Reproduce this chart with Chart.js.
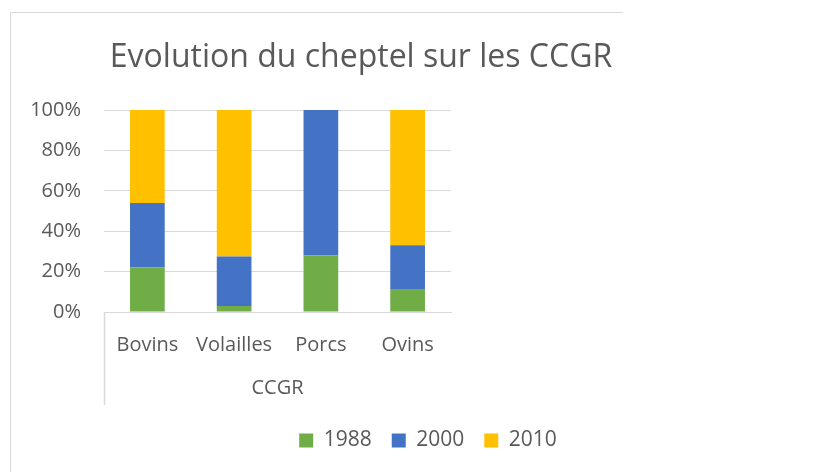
<!DOCTYPE html>
<html>
<head>
<meta charset="utf-8">
<script src="https://cdn.jsdelivr.net/npm/chart.js@4.4.1/dist/chart.umd.min.js"></script>
<style>
	html, body { margin: 0; padding: 0; background: #fff; overflow: hidden; }
	#wrap { position: relative; width: 830px; height: 472px; }
	#frame { position: absolute; left: 10px; top: 12px; width: 612px; height: 470px; border-top: 1px solid #d9d9d9; border-left: 1px solid #d9d9d9; }
	canvas { position: absolute; left: 0; top: 0; }
</style>
</head>
<body>
<div id="wrap">
	<div id="frame"></div>
	<canvas id="chart" width="830" height="472"></canvas>
</div>
<script>
// Data
const chartTitle = "Evolution du cheptel sur les CCGR";
const groupTitle = "CCGR";
const categories = ["Bovins", "Volailles", "Porcs", "Ovins"];
const years = ["1988", "2000", "2010"];
const values1988 = [22, 3, 28, 11];
const values2000 = [32, 24.5, 72, 22];
const values2010 = [46, 72.5, 0, 67];
const yTicks = [0, 20, 40, 60, 80, 100];

const seriesColors = ["#70AD47", "#4472C4", "#FFC000"];
const textColor = "#595959";
const gridColor = "#d9d9d9";
const fontFamily = "'Open Sans', sans-serif";

// Title drawn centred over the original chart box
const titlePlugin = {
	id: "excelTitle",
	afterDraw(chart) {
		const ctx = chart.ctx;
		ctx.save();
		ctx.font = "32px " + fontFamily;
		ctx.fillStyle = textColor;
		ctx.textAlign = "center";
		ctx.textBaseline = "middle";
		ctx.fillText(chartTitle, 361, 58);
		ctx.restore();
	},
};

// Vertical separator line of the multi-level category axis
const groupLinePlugin = {
	id: "groupLine",
	afterDraw(chart) {
		const ctx = chart.ctx;
		const xScale = chart.scales.x;
		const left = Math.round(chart.chartArea.left) + 0.5;
		ctx.save();
		ctx.strokeStyle = gridColor;
		ctx.lineWidth = 1.5;
		ctx.beginPath();
		ctx.moveTo(left, chart.chartArea.bottom);
		ctx.lineTo(left, xScale.bottom - 5);
		ctx.stroke();
		ctx.restore();
	},
};

const ctx = document.getElementById("chart").getContext("2d");

new Chart(ctx, {
	type: "bar",
	data: {
		labels: categories,
		datasets: [
			{ label: years[0], data: values1988, backgroundColor: seriesColors[0] },
			{ label: years[1], data: values2000, backgroundColor: seriesColors[1] },
			{ label: years[2], data: values2010, backgroundColor: seriesColors[2] },
		],
	},
	options: {
		responsive: false,
		animation: false,
		layout: {
			padding: { top: 110, left: 26, right: 0, bottom: 11 },
		},
		datasets: {
			bar: {
				categoryPercentage: 1,
				barPercentage: 0.4,
				borderWidth: 0,
			},
		},
		plugins: {
			title: { display: false },
			tooltip: { enabled: false },
			legend: {
				position: "bottom",
				labels: {
					boxWidth: 14,
					boxHeight: 14,
					padding: 20,
					color: textColor,
					font: { family: fontFamily, size: 21 },
				},
			},
		},
		scales: {
			x: {
				stacked: true,
				grid: { display: false },
				border: { display: true, color: gridColor, width: 1 },
				ticks: {
					color: textColor,
					font: { family: fontFamily, size: 20 },
					padding: 13,
					maxRotation: 0,
					autoSkip: false,
				},
				title: {
					display: true,
					text: groupTitle,
					color: textColor,
					font: { family: fontFamily, size: 20 },
					padding: { top: 0, bottom: 10 },
				},
				afterFit(scale) {
					scale.height = 98;
				},
			},
			y: {
				stacked: true,
				min: 0,
				max: 100,
				grid: { color: gridColor, drawTicks: false },
				border: { display: false },
				ticks: {
					color: textColor,
					font: { family: fontFamily, size: 20 },
					padding: 23,
					callback: (v) => v + "%",
				},
				afterBuildTicks(scale) {
					scale.ticks = yTicks.map((v) => ({ value: v }));
				},
				afterFit(scale) {
					scale.width = 78;
				},
			},
			// empty space on the right, keeps the legend where Excel put it
			spacer: {
				type: "linear",
				position: "right",
				display: true,
				grid: { display: false },
				border: { display: false },
				ticks: { display: false },
				afterFit(scale) {
					scale.width = 379;
				},
			},
		},
	},
	plugins: [titlePlugin, groupLinePlugin],
});
</script>
</body>
</html>
